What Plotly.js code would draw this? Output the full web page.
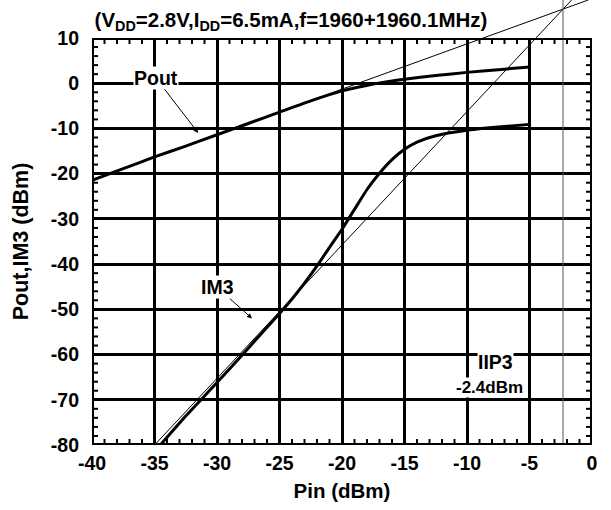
<!DOCTYPE html>
<html>
<head>
<meta charset="utf-8">
<script src="https://cdn.plot.ly/plotly-3.0.1.min.js"></script>
<style>html,body{margin:0;padding:0;background:#fff;}#chart{width:611px;height:510px;}</style>
</head>
<body>
<div id="chart"></div>
<script>
// ---- data ----
const poutPin = [-40, -37.5, -35, -32.5, -30, -27.5, -25, -22.5, -20, -18.75, -17.5, -16.25, -15, -12.5, -10, -7.5, -5];
const poutVal = [-21.5, -18.9, -16.3, -13.9, -11.4, -8.9, -6.4, -3.9, -1.7, -0.9, -0.2, 0.4, 0.9, 1.7, 2.4, 3.0, 3.6];

const im3Pin = [-35, -32.5, -30, -27.5, -25, -24, -23, -22, -21, -20, -19, -18, -17, -16, -15, -14, -12.5, -10, -7.5, -5];
const im3Val = [-81.5, -73.6, -66.2, -58.6, -50.9, -47.7, -44.2, -40.4, -36.3, -32.3, -27.9, -23.5, -19.9, -16.9, -14.6, -13.0, -11.6, -10.4, -9.7, -9.1];

// extrapolation lines (slope 1 and slope 3) and IIP3 marker
const fundLinePin = [-40, -0.3];
const fundLineVal = [-21.3, 18.4];
const im3LinePin = [-35.1, -1.6];
const im3LineVal = [-80.3, 18.5];
const iip3Pin = [-2.32, -2.32];
const iip3Val = [-80, 18.4];

const xTicks = [-40, -35, -30, -25, -20, -15, -10, -5, 0];
const yTicks = [10, 0, -10, -20, -30, -40, -50, -60, -70, -80];

// ---- layout geometry ----
const W = 611, H = 510;
const mL = 92, mR = 19, mT = 0, mB = 65;
const plotTopPx = 38;                    // top of main frame
const plotH = H - mT - mB;               // 445
const mainFrac = (plotH - plotTopPx) / plotH;
const xMin = -40, xMax = 0, yMin = -80, yMax = 10;
const y2Max = yMin + (yMax - yMin) / mainFrac;

const FONT = 'Liberation Sans, Arial, Helvetica, sans-serif';
const bold = (s) => ({family: FONT, size: s, color: '#000', weight: 'bold'});

const traces = [
  {x: fundLinePin, y: fundLineVal, xaxis: 'x2', yaxis: 'y2', mode: 'lines',
   line: {color: '#000', width: 1}, hoverinfo: 'skip'},
  {x: im3LinePin, y: im3LineVal, xaxis: 'x2', yaxis: 'y2', mode: 'lines',
   line: {color: '#000', width: 1}, hoverinfo: 'skip'},
  {x: iip3Pin, y: iip3Val, xaxis: 'x2', yaxis: 'y2', mode: 'lines',
   line: {color: '#555', width: 1}, hoverinfo: 'skip'},
  {x: poutPin, y: poutVal, mode: 'lines', name: 'Pout',
   line: {color: '#000', width: 3, shape: 'spline', smoothing: 0.5}},
  {x: im3Pin, y: im3Val, mode: 'lines', name: 'IM3',
   line: {color: '#000', width: 3, shape: 'spline', smoothing: 0.5}}
];

// frame and minor tick marks (axis decoration), placed through the axes
const shapes = [{type: 'rect', xref: 'x', yref: 'y', x0: xMin, x1: xMax, y0: yMin, y1: yMax,
  line: {color: '#000', width: 4}, fillcolor: 'rgba(0,0,0,0)', layer: 'above'}];
const TL = 6, TW = 2;
for (let v = xMin + 1; v < xMax; v += 1) {
  if (v % 5 === 0) continue;
  shapes.push({type: 'line', xref: 'x', yref: 'y', ysizemode: 'pixel', yanchor: yMin,
    x0: v, x1: v, y0: 0, y1: TL, line: {color: '#000', width: TW}});
  shapes.push({type: 'line', xref: 'x', yref: 'y', ysizemode: 'pixel', yanchor: yMax,
    x0: v, x1: v, y0: 0, y1: -TL, line: {color: '#000', width: TW}});
}
for (let v = yMin + 2; v < yMax; v += 2) {
  if (v % 10 === 0) continue;
  shapes.push({type: 'line', xref: 'x', yref: 'y', xsizemode: 'pixel', xanchor: xMin,
    y0: v, y1: v, x0: 0, x1: TL, line: {color: '#000', width: TW}});
  shapes.push({type: 'line', xref: 'x', yref: 'y', xsizemode: 'pixel', xanchor: xMax,
    y0: v, y1: v, x0: 0, x1: -TL, line: {color: '#000', width: TW}});
}

const layout = {
  width: W, height: H,
  margin: {l: mL, r: mR, t: mT, b: mB, pad: 0},
  paper_bgcolor: '#fff',
  plot_bgcolor: 'rgba(0,0,0,0)',
  showlegend: false,
  font: bold(20),
  title: {
    text: '(V<sub>DD</sub>=2.8V,I<sub>DD</sub>=6.5mA,f=1960+1960.1MHz)',
    font: bold(20.5),
    x: 291 / W, xanchor: 'center', xref: 'container',
    y: 1 - 20 / H, yanchor: 'middle', yref: 'container'
  },
  xaxis: {
    range: [xMin, xMax], domain: [0, 1], anchor: 'y',
    tickmode: 'array', tickvals: xTicks, ticktext: xTicks.map(String),
    ticks: '', showgrid: true, gridcolor: '#000', gridwidth: 2.5,
    zeroline: false, showline: false,
    tickfont: bold(19.5), ticklabelstandoff: 4,
    title: {text: 'Pin (dBm)', font: bold(20.5), standoff: 11},
    automargin: false
  },
  yaxis: {
    range: [yMin, yMax], domain: [0, mainFrac], anchor: 'x',
    tickmode: 'array', tickvals: yTicks, ticktext: yTicks.map(String),
    ticks: '', showgrid: true, gridcolor: '#000', gridwidth: 2.5,
    zeroline: false, showline: false,
    tickfont: bold(19.5), ticklabelstandoff: 12,
    title: {text: 'Pout,IM3 (dBm)', font: bold(21.5), standoff: 16},
    automargin: false
  },
  xaxis2: {range: [xMin, xMax], domain: [0, 1], anchor: 'y2', visible: false, showgrid: false, zeroline: false},
  yaxis2: {range: [yMin, y2Max], domain: [0, 1], anchor: 'x2', visible: false, showgrid: false, zeroline: false},
  shapes: shapes,
  annotations: [
    {x: -31.5, y: -11.0, ax: -34.9, ay: 1.2, xref: 'x', yref: 'y', axref: 'x', ayref: 'y',
     text: 'Pout', showarrow: true, arrowhead: 2, arrowsize: 1, arrowwidth: 1, arrowcolor: '#000',
     standoff: 0, startstandoff: 0, bgcolor: '#fff', borderpad: 0, font: bold(19.5)},
    {x: -27.2, y: -52.0, ax: -30.0, ay: -45.1, xref: 'x', yref: 'y', axref: 'x', ayref: 'y',
     text: 'IM3', showarrow: true, arrowhead: 2, arrowsize: 1, arrowwidth: 1, arrowcolor: '#000',
     standoff: 0, startstandoff: 0, bgcolor: '#fff', borderpad: 0, font: bold(19.5)},
    {x: -7.7, y: -61.7, xref: 'x', yref: 'y', text: 'IIP3', showarrow: false,
     bgcolor: '#fff', borderpad: 0, font: bold(19.5)},
    {x: -8.2, y: -67.2, xref: 'x', yref: 'y', text: '-2.4dBm', showarrow: false,
     bgcolor: '#fff', borderpad: 0, font: bold(17)}
  ]
};

Plotly.newPlot('chart', traces, layout, {displayModeBar: false});
</script>
</body>
</html>
